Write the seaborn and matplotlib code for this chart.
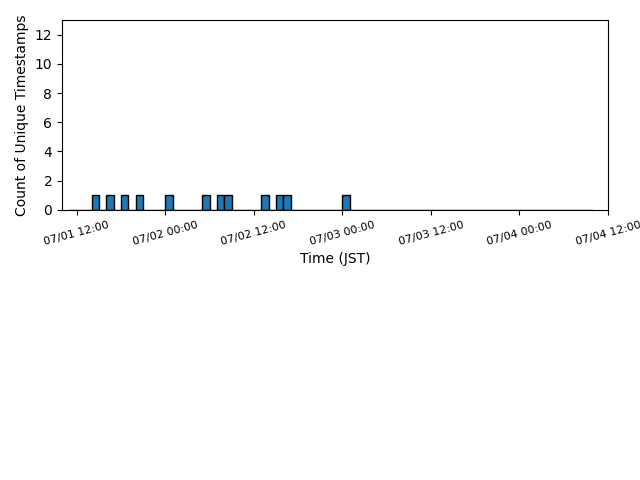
import matplotlib
matplotlib.use("Agg")
import matplotlib.pyplot as plt
import matplotlib.dates as mdates
import pandas as pd
import numpy as np
import seaborn as sns

# Unique timestamps (JST), one per hourly bin
timestamps = [
    "2024-07-01 14:20", "2024-07-01 16:20", "2024-07-01 18:20", "2024-07-01 20:20",
    "2024-07-02 00:20", "2024-07-02 05:20", "2024-07-02 07:20", "2024-07-02 08:20",
    "2024-07-02 13:20", "2024-07-02 15:20", "2024-07-02 16:20", "2024-07-03 00:20",
]
bin_start = "2024-07-01 11:00"
bin_end = "2024-07-04 10:00"
xlim_range = ["2024-07-01 10:00", "2024-07-04 12:00"]
y_ticks = [0, 2, 4, 6, 8, 10, 12]

t = mdates.date2num(pd.to_datetime(timestamps).to_pydatetime())
edges = mdates.date2num(pd.date_range(bin_start, bin_end, freq="1h").to_pydatetime())

fig, ax = plt.subplots(figsize=(6.4, 4.8), dpi=100)
sns.histplot(x=t, bins=edges, ax=ax, color="#1f77b4", edgecolor="black",
             linewidth=1, alpha=1)

ax.set_xlim(mdates.date2num(pd.to_datetime(xlim_range).to_pydatetime()))
ax.set_ylim(0, 13)
ax.set_yticks(y_ticks)
ax.xaxis.set_major_locator(mdates.HourLocator(byhour=[0, 12]))
ax.xaxis.set_major_formatter(mdates.DateFormatter("%m/%d %H:%M"))
for lab in ax.get_xticklabels():
    lab.set_rotation(15)
    lab.set_fontsize(8)
    lab.set_ha("center")
ax.set_xlabel("Time (JST)")
ax.set_ylabel("Count of Unique Timestamps")

fig.subplots_adjust(left=0.097, right=0.95, top=0.958, bottom=0.563)
fig.savefig("out.png", dpi=100)
